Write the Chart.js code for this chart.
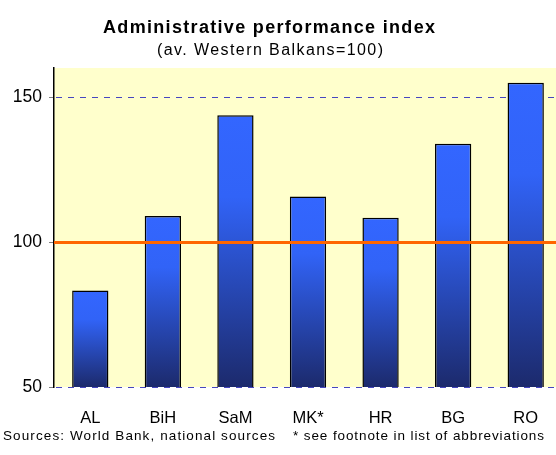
<!DOCTYPE html>
<html>
<head>
<meta charset="utf-8">
<script src="https://cdn.jsdelivr.net/npm/chart.js@4/dist/chart.umd.min.js"></script>
<style>
  html, body { margin:0; padding:0; background:#fff; overflow:hidden; width:556px; height:455px; }
  #wrap { position:absolute; left:0; top:0; width:562px; height:455px; }
  .txt { position:absolute; font-family:"Liberation Sans", Arial, sans-serif; color:#000; white-space:pre; line-height:1; }
  #title { font-size:18px; font-weight:bold; top:17.5px; }
  #subtitle { font-size:16px; top:41.5px; }
  .foot { font-size:13.5px; top:428.5px; }
</style>
</head>
<body>
<div id="wrap"><canvas id="c"></canvas></div>
<div class="txt" id="title"></div>
<div class="txt" id="subtitle"></div>
<div class="txt foot" id="foot1"></div>
<div class="txt foot" id="foot2"></div>
<script>
const categories = ["AL", "BiH", "SaM", "MK*", "HR", "BG", "RO"];
const indexValues = [83.3, 109, 143.7, 115.7, 108.4, 133.9, 154.9];
const yTicks = [50, 100, 150];
const referenceLevel = 100;
const titleText = "Administrative performance index";
const subtitleText = "(av. Western Balkans=100)";
const sourceText = "Sources: World Bank, national sources";
const noteText = "* see footnote in list of abbreviations";

// place a text element spanning [x0, x1] horizontally
function placeText(id, text, x0, x1) {
  const el = document.getElementById(id);
  el.textContent = text;
  el.style.letterSpacing = '0px';
  const w = el.getBoundingClientRect().width;
  const n = text.length;
  const ls = (x1 - x0 - w) / Math.max(1, n - 1);
  el.style.letterSpacing = ls + 'px';
  el.style.left = x0 + 'px';
}
placeText('title', titleText, 103, 435);
placeText('subtitle', subtitleText, 157, 383);
placeText('foot1', sourceText, 3, 275);
placeText('foot2', noteText, 293, 544);

const bgPlugin = {
  id: 'plotBg',
  beforeDraw(chart) {
    const {ctx, chartArea: a} = chart;
    ctx.save();
    ctx.fillStyle = '#ffffcc';
    ctx.fillRect(a.left, a.top, a.right - a.left, a.bottom - a.top);
    ctx.restore();
  },
  beforeDatasetsDraw(chart) {
    const {ctx, chartArea: a, scales: {y}} = chart;
    ctx.save();
    ctx.strokeStyle = '#4646c0';
    ctx.lineWidth = 1;
    ctx.setLineDash([6, 6]);
    yTicks.forEach(v => {
      if (v === referenceLevel) return;
      const py = Math.round(y.getPixelForValue(v)) + 0.5;
      ctx.beginPath();
      ctx.moveTo(a.left + 2, py);
      ctx.lineTo(a.right, py);
      ctx.stroke();
    });
    ctx.restore();
  }
};
const refLine = {
  id: 'refLine',
  afterDatasetsDraw(chart) {
    const {ctx, chartArea: a, scales: {y}} = chart;
    const py = Math.round(y.getPixelForValue(referenceLevel)) + 0.5;
    ctx.save();
    ctx.strokeStyle = '#ff6600';
    ctx.lineWidth = 3;
    ctx.beginPath();
    ctx.moveTo(a.left, py);
    ctx.lineTo(a.right, py);
    ctx.stroke();
    ctx.restore();
  }
};

function barFill(ctx) {
  const chart = ctx.chart;
  const y = chart.scales && chart.scales.y;
  if (!chart.chartArea || !y || ctx.parsed === undefined) return '#3366ff';
  const top = y.getPixelForValue(ctx.parsed.y);
  const bot = y.getPixelForValue(y.min);
  if (!isFinite(top) || !isFinite(bot) || bot === top) return '#3366ff';
  const g = chart.ctx.createLinearGradient(0, top, 0, bot);
  g.addColorStop(0, '#3366ff');
  g.addColorStop(0.3, '#3163f7');
  g.addColorStop(1, '#1c2a6c');
  return g;
}

const font = (s) => ({ family: '"Liberation Sans", Arial, sans-serif', size: s });

new Chart(document.getElementById('c'), {
  type: 'bar',
  data: {
    labels: categories,
    datasets: [{
      data: indexValues,
      backgroundColor: barFill,
      borderColor: '#000',
      borderWidth: 1.5,
      borderSkipped: false,
      barPercentage: 0.5,
      categoryPercentage: 1.0
    }]
  },
  options: {
    responsive: true,
    maintainAspectRatio: false,
    animation: false,
    layout: { padding: { left: 0, right: 0, top: 68, bottom: 0 } },
    plugins: {
      legend: { display: false },
      tooltip: { enabled: false },
      title: { display: false }
    },
    scales: {
      x: {
        afterFit(scale) { scale.height = 68; },
        grid: { display: false, drawTicks: false },
        border: { display: false },
        ticks: { color: '#000', padding: 22, font: font(16.5), autoSkip: false, maxRotation: 0 }
      },
      y: {
        min: 50, max: 160,
        afterBuildTicks(scale) { scale.ticks = yTicks.map(v => ({ value: v })); },
        afterFit(scale) { scale.width = 54; },
        grid: { drawOnChartArea: false, color: '#808080', tickColor: '#808080', tickLength: 5 },
        border: { display: true, color: '#000', width: 1.5 },
        ticks: { color: '#000', padding: 7, font: font(17.5) }
      }
    }
  },
  plugins: [bgPlugin, refLine]
});
</script>
</body>
</html>
